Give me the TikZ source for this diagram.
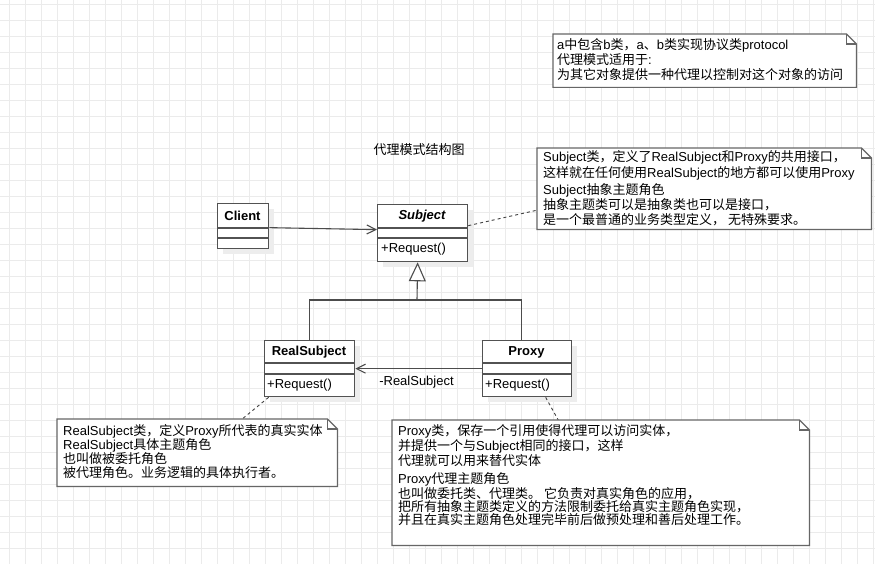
\documentclass[tikz,border=0pt]{standalone}
\usepackage{fontspec}
\setmainfont{Liberation Sans}
\newfontfamily\cjkfont{Noto Sans CJK SC}
\newfontfamily\latfont{Liberation Sans}
\usetikzlibrary{arrows.meta,shadows}
% automatic switch between Latin and CJK fonts
\newcount\cjkc
\cjkc="4E00
\loop \XeTeXcharclass\cjkc=1 \advance\cjkc by 1 \ifnum\cjkc<"A000 \repeat
\XeTeXcharclass`，=3
\XeTeXcharclass`、=3
\XeTeXcharclass`。=3
\XeTeXinterchartokenstate=1
\XeTeXinterchartoks 0 1 = {\cjkfont}
\XeTeXinterchartoks 0 3 = {\cjkfont}
\XeTeXinterchartoks 4095 1 = {\cjkfont}
\XeTeXinterchartoks 4095 3 = {\cjkfont}
\XeTeXinterchartoks 1 0 = {\latfont}
\XeTeXinterchartoks 3 0 = {\latfont}
\XeTeXinterchartoks 4095 0 = {\latfont}

\tikzset{
  gridline/.style={draw=black!8, line width=0.8pt},
  cls/.style={draw=black!68, line width=1.3pt, fill=white, inner sep=0pt, anchor=north west,
    drop shadow={shadow xshift=5pt, shadow yshift=-5pt, fill=black!7, opacity=1}},
  sepline/.style={draw=black!68, line width=1.3pt},
  clsname/.style={font=\fontsize{13}{15}\selectfont\bfseries, inner sep=0pt},
  member/.style={font=\fontsize{13}{15}\selectfont, inner sep=0pt, anchor=west},
  conn/.style={draw=black!70, line width=1.1pt},
  assoc/.style={conn, -{Straight Barb[length=9pt,width=9pt]}},
  genarrow/.style={conn, -{Triangle[open,length=19pt,width=17pt,fill=white]}},
  notebody/.style={inner sep=0pt, anchor=north west},
  noteline/.style={draw=black!60, line width=1.2pt, fill=white},
  notetext/.style={inner sep=0pt, anchor=base west, align=left},
  notelink/.style={draw=black!75, line width=0.9pt, dash pattern=on 3pt off 3pt},
}
\newcommand\notepath[1]{%
  \path[noteline] (#1.north west) -- ([xshift=-10pt]#1.north east) -- ([yshift=-10pt]#1.north east)
    -- (#1.south east) -- (#1.south west) -- cycle;
  \draw[noteline, fill=none] ([xshift=-10pt]#1.north east) -- ([xshift=-10pt,yshift=-10pt]#1.north east)
    -- ([yshift=-10pt]#1.north east);}

\begin{document}
\begin{tikzpicture}[x=1pt, y=-1pt]
\useasboundingbox[fill=white] (0,0) rectangle (875,564);
\foreach \i in {0,...,54} \draw[gridline] ({9.5+16*\i},0) -- ({9.5+16*\i},564);
\foreach \j in {0,...,35} \draw[gridline] (0,{4+16*\j}) -- (875,{4+16*\j});

% title
\node[font=\fontsize{13}{15}\selectfont, inner sep=0pt] (title) at (419,150) {代理模式结构图};

% classes
\node[cls, minimum width=51pt, minimum height=45pt] (client) at (217,203) {};
\draw[sepline] (client.west |- 0,228) -- (client.east |- 0,228);
\draw[sepline] (client.west |- 0,238) -- (client.east |- 0,238);
\node[clsname] (clientname) at (242.5,215.5) {Client};

\node[cls, minimum width=90pt, minimum height=57pt] (subject) at (377,204) {};
\draw[sepline] (subject.west |- 0,228) -- (subject.east |- 0,228);
\draw[sepline] (subject.west |- 0,238) -- (subject.east |- 0,238);
\node[clsname, font=\fontsize{13}{15}\selectfont\bfseries\itshape] (subjectname) at (422,216) {Subject};
\node[member] (subjectop) at (381,249) {+Request()};

\node[cls, minimum width=90pt, minimum height=56pt] (realsubject) at (264,340) {};
\draw[sepline] (realsubject.west |- 0,363) -- (realsubject.east |- 0,363);
\draw[sepline] (realsubject.west |- 0,374) -- (realsubject.east |- 0,374);
\node[clsname] (realsubjectname) at (309,352) {RealSubject};
\node[member] (realsubjectop) at (267,385) {+Request()};

\node[cls, minimum width=89pt, minimum height=56pt] (proxy) at (482,340) {};
\draw[sepline] (proxy.west |- 0,363) -- (proxy.east |- 0,363);
\draw[sepline] (proxy.west |- 0,374) -- (proxy.east |- 0,374);
\node[clsname] (proxyname) at (526.5,352) {Proxy};
\node[member] (proxyop) at (485,385) {+Request()};

% connectors
\draw[assoc] ([yshift=-1.5pt]client.east) -- ([yshift=3.5pt]subject.west);
\coordinate (junc) at (417,300);
\draw[conn] (realsubject.north) |- (junc) -| ([xshift=-5.5pt]proxy.north);
\draw[genarrow] (junc) -- ([xshift=-5pt]subject.south);
\draw[assoc] (proxy.west) -- (realsubject.east);
\node[font=\fontsize{13}{15}\selectfont, inner sep=0pt] (assoclabel) at (416.5,382) {-RealSubject};

% notes (text nodes are placed by the baseline of their last line)
\node[notebody, minimum width=303pt, minimum height=53pt] (topnote) at (553,34) {};
\notepath{topnote}
\node[notetext, font=\fontsize{13}{15}\selectfont] (topnotetext) at (557,80)
  {a中包含b类，a、b类实现协议类protocol\\代理模式适用于:\\为其它对象提供一种代理以控制对这个对象的访问};

\node[notebody, minimum width=334pt, minimum height=81pt] (subjectnote) at (537,148) {};
\draw[notelink] ([yshift=7.5pt]subject.east) -- ([yshift=-21.5pt]subjectnote.west);
\notepath{subjectnote}
\node[notetext, font=\fontsize{13}{16}\selectfont] (subjectnotea) at (543,178)
  {Subject类，定义了RealSubject和Proxy的共用接口，\\这样就在任何使用RealSubject的地方都可以使用Proxy};
\node[notetext, font=\fontsize{13}{15}\selectfont] (subjectnoteb) at (543,225)
  {Subject抽象主题角色\\抽象主题类可以是抽象类也可以是接口，\\是一个最普通的业务类型定义， 无特殊要求。};

\node[notebody, minimum width=280pt, minimum height=67pt] (realnote) at (57,419) {};
\draw[notelink] ([xshift=-41pt]realsubject.south) -- ([xshift=45pt]realnote.north);
\notepath{realnote}
\node[notetext, font=\fontsize{13}{14}\selectfont] (realnotetext) at (63,477)
  {RealSubject类，定义Proxy所代表的真实实体\\RealSubject具体主题角色\\也叫做被委托角色\\被代理角色。业务逻辑的具体执行者。};

\node[notebody, minimum width=417pt, minimum height=125pt] (proxynote) at (392,420) {};
\draw[notelink] ([xshift=18.5pt]proxy.south) -- ([xshift=-42.5pt]proxynote.north);
\notepath{proxynote}
\node[notetext, font=\fontsize{13}{14.7}\selectfont] (proxynotea) at (398,465.1)
  {Proxy类，保存一个引用使得代理可以访问实体，\\并提供一个与Subject相同的接口，这样\\代理就可以用来替代实体};
\node[notetext, font=\fontsize{13}{13.2}\selectfont] (proxynoteb) at (398,524.6)
  {Proxy代理主题角色\\也叫做委托类、代理类。 它负责对真实角色的应用，\\把所有抽象主题类定义的方法限制委托给真实主题角色实现，\\并且在真实主题角色处理完毕前后做预处理和善后处理工作。};
\end{tikzpicture}
\end{document}
